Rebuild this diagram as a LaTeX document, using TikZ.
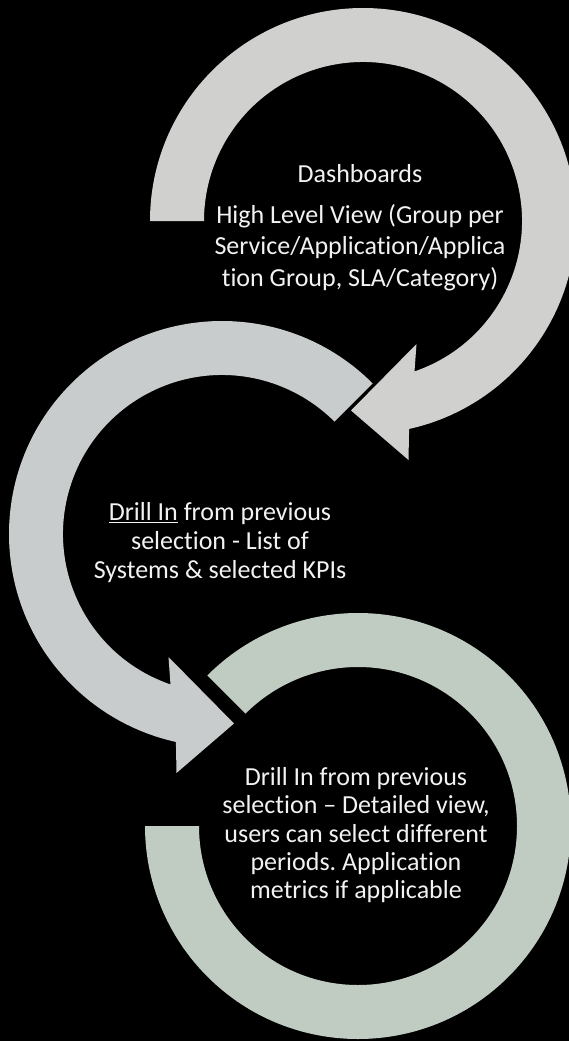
\documentclass[tikz,border=0pt]{standalone}
\usepackage{fontspec}
\setmainfont{Carlito}[Ligatures={NoCommon,NoContextual}]
\usetikzlibrary{calc}
\definecolor{ringA}{RGB}{208,208,206}
\definecolor{ringB}{RGB}{200,204,204}
\definecolor{ringC}{RGB}{192,203,194}
\definecolor{txtc}{RGB}{242,242,242}
\frenchspacing
\begin{document}
\begin{tikzpicture}[x=1pt,y=-1pt,
  txtline/.style={text=txtc, font=\fontsize{26}{31}\selectfont, anchor=base, inner sep=0pt}]
\fill[black] (0,0) rectangle (569,1041);
\useasboundingbox (0,0) rectangle (569,1041);
\coordinate (c1) at (363,221);
\coordinate (c2) at (222,534);
\coordinate (c3) at (358,826);
% ring 1 (clockwise, arrow at bottom)
\fill[ringA] ($(c1)+(180:213)$) arc[start angle=180, end angle=437.5, radius=213]
  -- ($(c1)+(45.5,239)$) -- ($(c1)+(-12,189.5)$) -- ($(c1)+(53.5,123)$)
  -- ($(c1)+(71.1:159)$) arc[start angle=431.1, end angle=180, radius=159] -- cycle;
% ring 2 (counter-clockwise, arrow at bottom)
\fill[ringB] ($(c2)+(315:213)$) arc[start angle=315, end angle=102.5, radius=213]
  -- ($(c2)+(-45.5,239)$) -- ($(c2)+(12,189.5)$) -- ($(c2)+(-53.5,123)$)
  -- ($(c2)+(108.9:159)$) arc[start angle=108.9, end angle=315, radius=159] -- cycle;
% ring 3 (no arrow head)
\fill[ringC] ($(c3)+(225:213)$) arc[start angle=225, end angle=540, radius=213]
  -- ($(c3)+(180:159)$) arc[start angle=540, end angle=225, radius=159] -- cycle;
% texts
\node[txtline] (t1a) at (360,182) {Dashboards};
\node[txtline] (t1b) at (360,223.5) {High Level View (Group per};
\node[txtline] (t1c) at (360,254.5) {Service/Application/Applica};
\node[txtline] (t1d) at (360,286) {tion Group, SLA/Category)};
\node[txtline] (t2a) at (220,520.5) {\underline{Drill In} from previous};
\node[txtline] (t2b) at (220,549) {selection - List of};
\node[txtline] (t2c) at (220,578) {Systems \& selected KPIs};
\node[txtline] (t3a) at (356,785) {Drill In from previous};
\node[txtline] (t3b) at (356,813.5) {selection – Detailed view,};
\node[txtline] (t3c) at (356,842) {users can select different};
\node[txtline] (t3d) at (356,870) {periods. Application};
\node[txtline] (t3e) at (356,898.5) {metrics if applicable};
\end{tikzpicture}
\end{document}
